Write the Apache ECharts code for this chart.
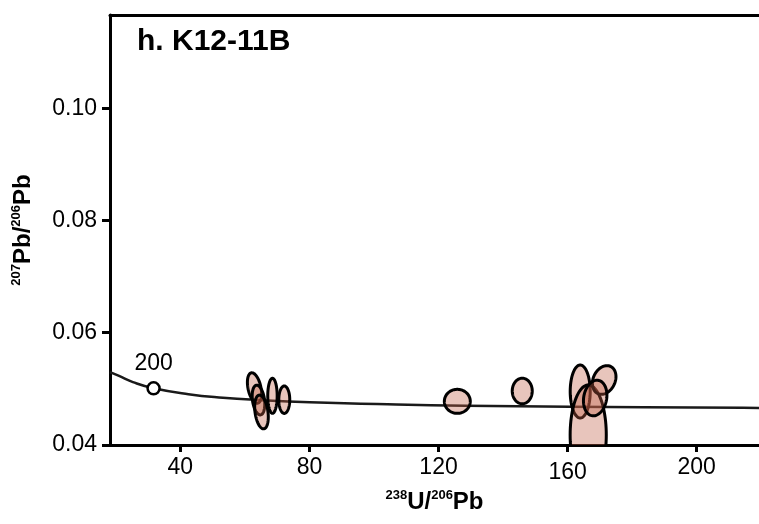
<!DOCTYPE html>
<html>
<head>
<meta charset="utf-8">
<title>K12-11B Tera-Wasserburg</title>
<script src="https://cdn.jsdelivr.net/npm/echarts@6/dist/echarts.min.js"></script>
<style>
  html, body { margin: 0; padding: 0; background: #fff; }
  #chart { width: 759px; height: 524px; }
</style>
</head>
<body>
<div id="chart"></div>
<script>
// Axis ticks
const xTicks = [40, 80, 120, 160, 200];
const yTicks = [0.04, 0.06, 0.08, 0.10];

// Concordia curve (238U/206Pb, 207Pb/206Pb)
const concordiaX = [18.2, 21.0, 25.3, 31.7, 42.5, 53.2, 64.0, 80.1, 106.9, 128.4, 160.7, 183.6, 214.4, 219.3];
const concordiaY = [0.0530, 0.0523, 0.0512, 0.0501, 0.04905, 0.04842, 0.04802, 0.04761, 0.04721, 0.04701, 0.04682, 0.04672, 0.04662, 0.04660];

// Age marker on the concordia (Ma)
const markerAge = ['200'];
const markerX = [31.7];
const markerY = [0.0501];

// Analysis error ellipses: centre, semi-axes (data units), tilt (deg)
const ellX   = [62.97, 64.21, 65.14, 68.54, 72.20, 125.82, 145.94, 163.90, 166.38, 171.33, 168.54];
const ellY   = [0.05015, 0.04801, 0.04588, 0.04876, 0.04807, 0.04778, 0.04962, 0.04953, 0.04178, 0.05158, 0.04837];
const ellRx  = [2.00, 1.86, 2.00, 1.46, 1.70, 4.02, 3.10, 3.10, 5.60, 3.40, 3.56];
const ellRy  = [0.00276, 0.00267, 0.00303, 0.00312, 0.00244, 0.00214, 0.00228, 0.00472, 0.00890, 0.00267, 0.00320];
const ellRot = [-12, -8, -8, 0, 0, 0, 0, 0, 0, 25, 10];

const chart = echarts.init(document.getElementById('chart'), null, { renderer: 'canvas' });

const font = 'Liberation Sans, Arial, sans-serif';
const ink = '#000';

const curveData = concordiaX.map((x, i) => [x, concordiaY[i]]);
const markerData = markerX.map((x, i) => ({ value: [x, markerY[i]], name: markerAge[i] }));
const ellipseData = ellX.map((x, i) => [x, ellY[i], ellRx[i], ellRy[i], ellRot[i]]);

function renderEllipse(params, api) {
  const c = api.coord([api.value(0), api.value(1)]);
  const sz = api.size([api.value(2), api.value(3)]);
  const a = sz[0], b = sz[1];
  const r = api.value(4) * Math.PI / 180;
  const pts = [];
  const n = 90;
  for (let k = 0; k < n; k++) {
    const t = 2 * Math.PI * k / n;
    const ex = a * Math.cos(t), ey = b * Math.sin(t);
    pts.push([c[0] + ex * Math.cos(r) - ey * Math.sin(r),
              c[1] + ex * Math.sin(r) + ey * Math.cos(r)]);
  }
  return {
    type: 'polygon',
    shape: { points: pts },
    style: { fill: 'rgba(190,95,70,0.36)', stroke: '#000', lineWidth: 3 }
  };
}

const supStyle = { fontSize: 13, fontWeight: 'bold', fontFamily: font, color: ink, verticalAlign: 'top', lineHeight: 26 };
const mainStyle = { fontSize: 24, fontWeight: 'bold', fontFamily: font, color: ink, lineHeight: 26 };

const option = {
  animation: false,
  backgroundColor: '#fff',
  grid: { left: 110, right: 0, top: 15, bottom: 79, containLabel: false },
  graphic: [{
    type: 'text',
    left: 137,
    top: 27,
    style: { text: 'h. K12-11B', fontSize: 30, fontWeight: 'bold', fontFamily: font, fill: ink }
  }],
  xAxis: [{
    type: 'value',
    min: 18.2,
    max: 219.3,
    position: 'bottom',
    splitLine: { show: false },
    axisLine: { show: true, onZero: false, lineStyle: { color: ink, width: 3 } },
    axisTick: { show: true, customValues: xTicks, length: 7, inside: false, lineStyle: { color: ink, width: 3 } },
    axisLabel: {
      customValues: xTicks,
      margin: 11,
      fontSize: 23,
      fontFamily: font,
      color: ink,
      formatter: v => v === 160 ? '{low|160}' : String(v),
      rich: { low: { fontSize: 23, fontFamily: font, color: ink, padding: [5, 0, 0, 0] } }
    },
    name: '{sup|238}{main|U/}{sup|206}{main|Pb}',
    nameLocation: 'middle',
    nameGap: 42,
    nameTextStyle: { rich: { sup: supStyle, main: mainStyle } }
  }, {
    type: 'value',
    min: 18.2,
    max: 219.3,
    position: 'top',
    splitLine: { show: false },
    axisLine: { show: true, onZero: false, lineStyle: { color: ink, width: 3 } },
    axisTick: { show: false },
    axisLabel: { show: false }
  }],
  yAxis: {
    type: 'value',
    min: 0.04,
    max: 0.1166,
    splitLine: { show: false },
    axisLine: { show: true, onZero: false, lineStyle: { color: ink, width: 3 } },
    axisTick: { show: true, customValues: yTicks, length: 8, lineStyle: { color: ink, width: 3 } },
    axisLabel: {
      customValues: yTicks,
      margin: 13,
      fontSize: 23,
      fontFamily: font,
      color: ink,
      formatter: v => v.toFixed(2)
    },
    name: '{sup|207}{main|Pb/}{sup|206}{main|Pb}',
    nameLocation: 'middle',
    nameGap: 74,
    nameTextStyle: { rich: { sup: supStyle, main: mainStyle } }
  },
  series: [{
    type: 'line',
    data: curveData,
    smooth: true,
    showSymbol: false,
    symbol: 'none',
    lineStyle: { color: '#1a1a1a', width: 2.5 },
    z: 2,
    silent: true
  }, {
    type: 'custom',
    data: ellipseData,
    renderItem: renderEllipse,
    clip: true,
    z: 3,
    silent: true
  }, {
    type: 'scatter',
    data: markerData,
    symbol: 'circle',
    symbolSize: 12,
    itemStyle: { color: '#fff', borderColor: '#000', borderWidth: 2.5, opacity: 1 },
    label: {
      show: true,
      position: 'top',
      distance: 6,
      formatter: p => p.name,
      fontSize: 23,
      fontFamily: font,
      color: '#000',
      opacity: 1,
      textBorderWidth: 0
    },
    z: 4,
    silent: true
  }]
};

chart.setOption(option);
</script>
</body>
</html>
